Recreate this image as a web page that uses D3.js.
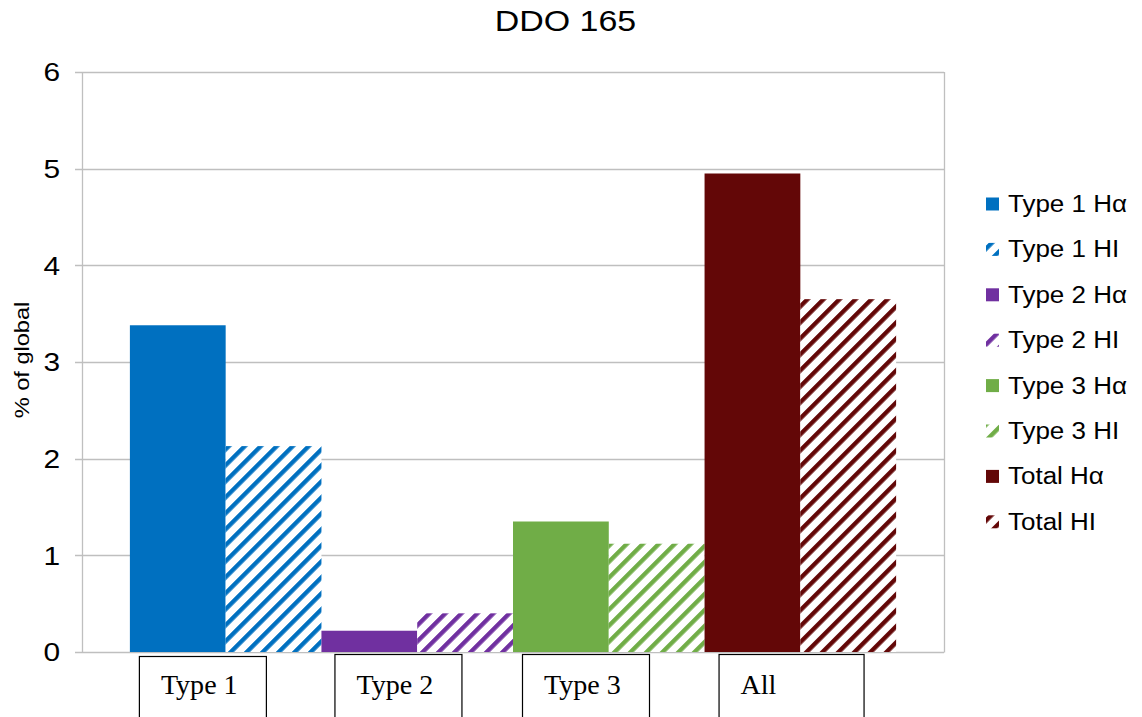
<!DOCTYPE html>
<html>
<head>
<meta charset="utf-8">
<script src="https://cdn.jsdelivr.net/npm/d3@7"></script>
<style>
  html, body { margin: 0; padding: 0; background: #fff; }
  svg { display: block; }
  .sans { font-family: "Liberation Sans", Arial, sans-serif; fill: #000; }
  .serif { font-family: "Liberation Serif", "Times New Roman", serif; fill: #000; }
</style>
</head>
<body>
<svg id="chart" width="1142" height="717"></svg>
<script>
// Series shown in the chart (one bar per series)
const seriesNames = ["Type 1 Hα", "Type 1 HI", "Type 2 Hα", "Type 2 HI",
                     "Type 3 Hα", "Type 3 HI", "Total Hα", "Total HI"];
const seriesValues = [3.38, 2.13, 0.22, 0.40, 1.35, 1.12, 4.95, 3.65];
const seriesColors = ["#0070C0", "#0070C0", "#7030A0", "#7030A0",
                      "#70AD47", "#70AD47", "#630707", "#630707"];
const seriesHatched = [false, true, false, true, false, true, false, true];

// Group labels drawn in boxes under the axis (each covers two bars)
const groupLabels = ["Type 1", "Type 2", "Type 3", "All"];
const yTicks = [0, 1, 2, 3, 4, 5, 6];
const chartTitle = "DDO 165";
const yTitle = "% of global";

const svg = d3.select("#chart");
const plot = { left: 82, right: 944, top: 72, bottom: 652 };
const stretch = 1.15; // the chart's sans text is drawn a little wide

const x = d3.scaleBand()
  .domain(seriesNames)
  .range([plot.left, plot.right])
  .paddingInner(0)
  .paddingOuter(0.5);

const y = d3.scaleLinear()
  .domain([0, 6])
  .range([plot.bottom, plot.top]);

// Hatch patterns: upward diagonal stripes on white
const defs = svg.append("defs");
seriesNames.forEach((name, i) => {
  if (!seriesHatched[i]) return;
  const p = defs.append("pattern")
    .attr("id", "hatch" + i)
    .attr("patternUnits", "userSpaceOnUse")
    .attr("width", 11.31)
    .attr("height", 11.31)
    .attr("patternTransform", "rotate(45)");
  p.append("rect").attr("width", 11.31).attr("height", 11.31).attr("fill", "#fff");
  p.append("rect").attr("width", 4.4).attr("height", 11.31).attr("fill", seriesColors[i]);
});
const fillOf = i => seriesHatched[i] ? `url(#hatch${i})` : seriesColors[i];

// Gridlines
svg.append("g")
  .selectAll("line")
  .data(yTicks)
  .join("line")
  .attr("x1", plot.left - 7)
  .attr("x2", plot.right)
  .attr("y1", d => Math.round(y(d)) + 0.5)
  .attr("y2", d => Math.round(y(d)) + 0.5)
  .attr("stroke", "#BFBFBF")
  .attr("stroke-width", 1.3);

// Plot frame: left axis and right border
svg.append("line")
  .attr("x1", plot.left + 0.5).attr("x2", plot.left + 0.5)
  .attr("y1", plot.top).attr("y2", plot.bottom + 0.5)
  .attr("stroke", "#BFBFBF").attr("stroke-width", 1.3);
svg.append("line")
  .attr("x1", plot.right + 0.5).attr("x2", plot.right + 0.5)
  .attr("y1", plot.top).attr("y2", plot.bottom + 0.5)
  .attr("stroke", "#BFBFBF").attr("stroke-width", 1.3);

// Bars
svg.append("g")
  .selectAll("rect")
  .data(seriesNames)
  .join("rect")
  .attr("x", d => x(d))
  .attr("width", x.bandwidth())
  .attr("y", (d, i) => y(seriesValues[i]))
  .attr("height", (d, i) => y(0) - y(seriesValues[i]))
  .attr("fill", (d, i) => fillOf(i));

// Y tick labels
svg.append("g")
  .selectAll("text")
  .data(yTicks)
  .join("text")
  .attr("class", "sans")
  .attr("transform", d => `translate(60,${y(d) + 9.3}) scale(${stretch},1)`)
  .attr("text-anchor", "end")
  .attr("font-size", 26)
  .text(d => d);

// Y axis title
svg.append("text")
  .attr("class", "sans")
  .attr("transform", `translate(29,360) rotate(-90) scale(1.18,1)`)
  .attr("text-anchor", "middle")
  .attr("font-size", 20)
  .text(yTitle);

// Chart title
svg.append("text")
  .attr("class", "sans")
  .attr("transform", `translate(565.5,31) scale(1.17,1)`)
  .attr("text-anchor", "middle")
  .attr("font-size", 29)
  .text(chartTitle);

// Legend
const legend = svg.append("g");
const legendRow = i => 204 + i * 45.4;
legend.selectAll("rect")
  .data(seriesNames)
  .join("rect")
  .attr("x", 986)
  .attr("y", (d, i) => legendRow(i) - 6.5)
  .attr("width", 13)
  .attr("height", 13)
  .attr("fill", (d, i) => fillOf(i));
legend.selectAll("text")
  .data(seriesNames)
  .join("text")
  .attr("class", "sans")
  .attr("transform", (d, i) => `translate(1008,${legendRow(i) + 8}) scale(1.13,1)`)
  .attr("font-size", 23)
  .text(d => d);

// Boxed group labels under the axis, each under its pair of bars
const boxShift = [9, 13, 9, 14];
const boxWidth = [127, 127, 127, 145];
const boxes = svg.append("g");
groupLabels.forEach((label, g) => {
  const bx = x(seriesNames[g * 2]) + boxShift[g];
  const grp = boxes.append("g");
  grp.append("rect")
    .attr("x", bx + 0.5)
    .attr("y", g === 0 ? 656.5 : 654.5)
    .attr("width", boxWidth[g])
    .attr("height", 80)
    .attr("fill", "#fff")
    .attr("stroke", "#000")
    .attr("stroke-width", 1.2);
  grp.append("text")
    .attr("class", "serif")
    .attr("transform", `translate(${bx + 22},694) scale(1.04,1)`)
    .attr("font-size", 27)
    .text(label);
});
</script>
</body>
</html>
